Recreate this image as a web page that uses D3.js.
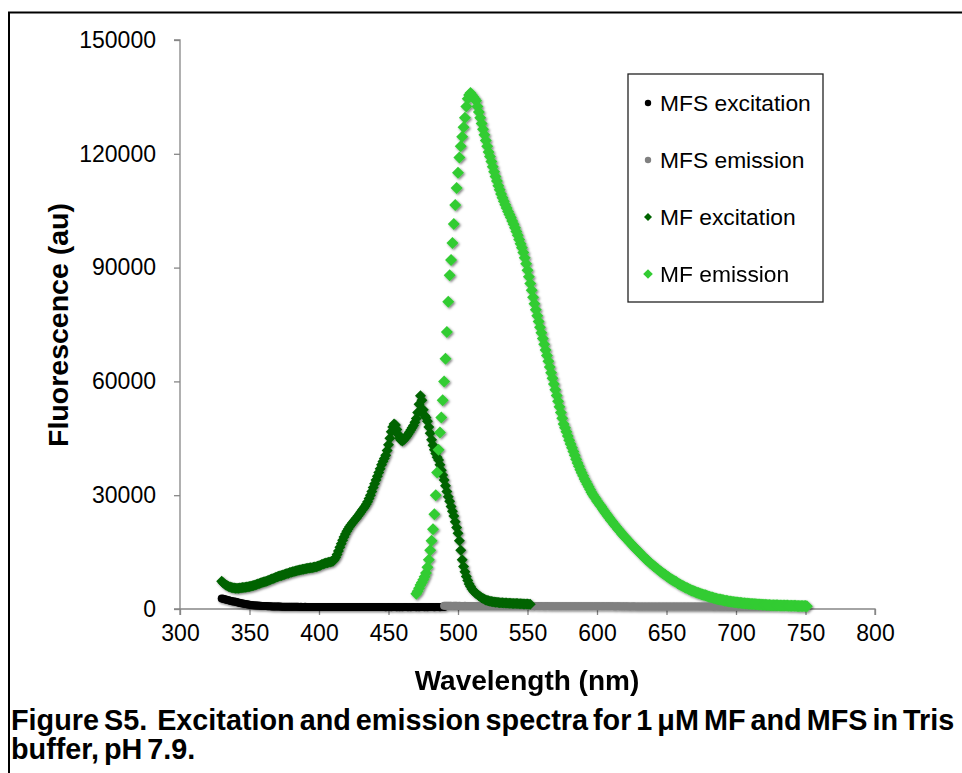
<!DOCTYPE html>
<html><head><meta charset="utf-8">
<script src="https://cdn.jsdelivr.net/npm/d3@7"></script>
<style>
html,body{margin:0;padding:0;background:#fff;}
text{font-family:"Liberation Sans",Arial,sans-serif;}
</style></head>
<body><svg id="c" width="962" height="773"></svg>
<script>
// ---------- data (fluorescence, au; 1 nm steps) ----------
const xTicks = [300,350,400,450,500,550,600,650,700,750,800];
const yTicks = [0,30000,60000,90000,120000,150000];
const seriesNames = ["MFS excitation","MFS emission","MF excitation","MF emission"];

const mfsExcitationStart = 330;
const mfsExcitation = [2800,2700,2600,2500,2400,2300,2200,2100,2000,1950,
 1900,1800,1700,1600,1500,1450,1400,1300,1250,1200,
 1100,1050,1000,980,950,920,900,870,850,820,
 800,780,760,740,720,700,690,680,670,660,
 650,640,630,620,620,610,600,600,590,590,
 580,590,580,570,580,570,560,570,560,560,
 570,560,550,560,550,560,550,540,550,560,
 550,540,550,540,550,540,530,540,550,540,
 530,540,530,540,530,520,530,540,530,520,
 530,520,530,520,530,520,510,520,530,520,
 510,520,510,520,510,520,510,500,510,520,
 510,500,510,500,510,500,510,500,490,500,
 510,500,490,500,510,500,490,500,490,500,
 490,500,510,500,490,500,490,500,510,500,
 490,500,490,500,510,500,490,500,490,500,
 500,510,500,490,500,510,500,490,500,510,500];

const mfsEmissionStart = 490;
const mfsEmission = [850,840,830,840,850,830,820,830,840,830,
 820,830,820,810,820,830,820,810,820,810,
 800,810,820,810,800,810,800,790,800,810,
 800,790,800,790,800,790,780,790,800,790,
 780,790,780,790,780,770,780,790,780,770,
 780,770,780,770,760,770,780,770,760,770,
 760,770,760,750,760,770,760,750,760,750,
 760,750,740,750,760,750,740,750,740,750,
 740,750,740,730,740,750,740,730,740,730,
 740,730,740,730,720,730,740,730,720,730,
 720,730,720,710,720,730,720,710,720,710,
 720,710,720,710,700,710,720,710,700,710,
 700,710,700,690,700,710,700,690,700,690,
 700,690,700,690,680,690,700,690,680,690,
 680,690,680,690,680,670,680,690,680,670,
 680,670,680,670,660,670,680,670,660,670,
 660,670,660,670,660,650,660,670,660,650,
 660,650,660,650,640,650,660,650,640,650,
 640,650,640,650,640,630,640,650,640,630,
 640,630,640,630,620,630,640,630,620,630,
 620,630,620,630,620,610,620,630,620,610,
 620,610,620,610,600,610,620,610,600,610,
 600,610,600,610,600,590,600,610,600,590,
 600,590,600,590,580,590,600,590,580,590,
 580,590,580,590,580,570,580,590,580,570,
 580,570,580,570,560,570,580,570,560,570,560];

const mfExcitationStart = 330;
const mfExcitation = [7300,6900,6600,6300,6100,5900,5800,5700,5600,5550,
 5500,5500,5500,5550,5600,5650,5700,5750,5800,5850,
 5900,6000,6100,6200,6300,6450,6600,6700,6850,7000,
 7100,7200,7300,7450,7600,7750,7900,8050,8200,8350,
 8500,8650,8750,8850,8950,9100,9200,9350,9450,9600,
 9700,9800,9900,10000,10100,10200,10300,10350,10450,10500,
 10600,10700,10750,10800,10850,10900,11000,11050,11150,11250,
 11400,11550,11700,11850,12000,12100,12200,12300,12400,12500,
 12600,13000,13600,14400,15300,16300,17200,18100,19000,19800,
 20500,21100,21700,22200,22700,23100,23600,24000,24500,25000,
 25500,26000,26500,27000,27600,28300,29100,30000,31000,32000,
 33000,34000,35000,36000,37000,38000,38900,39700,40500,41800,
 43300,45000,46700,48000,48800,48500,47300,46000,45000,44500,
 44300,44600,45000,45500,46000,46600,47200,47800,48400,49200,
 50200,51800,54000,56200,55000,52500,51000,50500,49500,48000,
 46300,44600,43200,42000,41000,40000,39300,38000,36600,35300,
 34000,32500,31000,29600,28400,27000,25800,24500,23000,21500,
 20000,18000,15500,13000,11200,9800,8600,7500,6600,5900,
 5300,4800,4400,4100,3800,3500,3200,2950,2750,2550,
 2400,2250,2150,2050,1950,1900,1850,1800,1750,1700,
 1680,1650,1620,1600,1580,1560,1540,1520,1500,1480,
 1460,1450,1440,1420,1400,1380,1360,1350,1340,1320,
 1300,1280,1250];

const mfEmissionStart = 470;
const mfEmission = [4000,4700,5500,6300,7000,7700,8500,9500,11000,13000,
 15500,18000,21000,25000,30000,36000,42000,46500,50500,55000,
 60000,66000,73000,81000,88000,92000,96500,101500,106500,111000,
 115000,119000,122000,124500,127000,129500,132500,134500,135500,136000,
 135500,135000,134500,134000,132500,131000,129500,128000,126500,125000,
 123500,122000,120500,119300,118000,116600,115300,114000,112800,111600,
 110500,109400,108400,107500,106600,105700,104800,104000,103200,102300,
 101400,100500,99500,98500,97400,96300,95200,94000,92600,91000,
 89300,87600,85800,84000,82200,80500,78900,77300,75800,74300,
 72800,71300,69800,68300,66800,65300,63800,62300,60800,59300,
 57800,56300,54800,53300,51800,50300,48800,47800,46700,45600,
 44500,43500,42500,41500,40500,39500,38500,37600,36700,35900,
 35100,34300,33600,32900,32200,31500,30800,30200,29600,29100,
 28500,28000,27500,27000,26400,25900,25400,24900,24400,23900,
 23400,23000,22500,22000,21600,21100,20700,20300,19800,19400,
 19000,18600,18200,17800,17400,17000,16600,16200,15800,15500,
 15100,14700,14300,14000,13600,13200,12900,12600,12200,11900,
 11600,11300,11000,10700,10400,10100,9800,9500,9300,9000,
 8700,8500,8200,8000,7700,7500,7300,7100,6800,6600,
 6400,6200,6000,5800,5600,5500,5300,5100,4900,4800,
 4600,4500,4300,4200,4100,3900,3800,3700,3600,3500,
 3300,3200,3100,3000,2900,2800,2700,2600,2500,2500,
 2400,2300,2200,2200,2100,2000,1950,1900,1850,1800,
 1750,1700,1660,1620,1580,1540,1500,1470,1440,1410,
 1380,1350,1320,1290,1260,1230,1200,1180,1160,1140,
 1120,1100,1080,1060,1040,1020,1000,990,980,970,
 960,950,940,930,920,910,900,890,880,870,
 860,850,840,830,820,810,800,790,780,770,760,750];

// ---------- drawing ----------
const svg = d3.select("#c");
const x = d3.scaleLinear().domain([300,800]).range([180,875]);
const y = d3.scaleLinear().domain([0,150000]).range([609,40]);
const axisCol = "#868686";

const defs = svg.append("defs");
const f = defs.append("filter").attr("id","sh").attr("x","-50%").attr("y","-50%").attr("width","200%").attr("height","200%");
f.append("feDropShadow").attr("dx",1.3).attr("dy",1.3).attr("stdDeviation",1).attr("flood-color","#000").attr("flood-opacity",0.5);

// outer frame
svg.append("path").attr("d","M9,773 V12.5 H962").attr("fill","none").attr("stroke","#000").attr("stroke-width",2);

// axes
const yAxis = svg.append("g").attr("transform","translate(180,0)")
  .call(d3.axisLeft(y).tickValues(yTicks).tickSize(6).tickPadding(18).tickFormat(d3.format("d")));
const xAxis = svg.append("g").attr("transform","translate(0,609)")
  .call(d3.axisBottom(x).tickValues(xTicks).tickSize(6).tickPadding(10).tickFormat(d3.format("d")));
[yAxis,xAxis].forEach(g=>{
  g.select(".domain").attr("stroke",axisCol).attr("stroke-width",1.3);
  g.selectAll(".tick line").attr("stroke",axisCol).attr("stroke-width",1.3);
  g.selectAll(".tick text").attr("fill","#000").style("font-size","23px").style("font-family","'Liberation Sans',Arial,sans-serif");
});
xAxis.select(".domain").attr("d","M180,6V0H875V6");
yAxis.select(".domain").attr("d","M-6,40H0V609H-6");

const diamond = r => `M0,${-r}L${r},0L0,${r}L${-r},0Z`;
function toPts(start, vals){ return vals.map((v,i)=>({w:start+i, v})); }

const plot = svg.append("g").attr("filter","url(#sh)");
// MFS excitation
plot.append("g").selectAll("circle").data(toPts(mfsExcitationStart,mfsExcitation)).join("circle")
  .attr("cx",d=>x(d.w)).attr("cy",d=>y(d.v)).attr("r",4).attr("fill","#000");
// MFS emission
plot.append("g").selectAll("circle").data(toPts(mfsEmissionStart,mfsEmission)).join("circle")
  .attr("cx",d=>x(d.w)).attr("cy",d=>y(d.v)).attr("r",4).attr("fill","#808080");
// MF excitation
plot.append("g").selectAll("path").data(toPts(mfExcitationStart,mfExcitation)).join("path")
  .attr("d",diamond(5.5)).attr("transform",d=>`translate(${x(d.w)},${y(d.v)})`).attr("fill","#006400");
// MF emission
plot.append("g").selectAll("path").data(toPts(mfEmissionStart,mfEmission)).join("path")
  .attr("d",diamond(6)).attr("transform",d=>`translate(${x(d.w)},${y(d.v)})`).attr("fill","#33CC33");

// legend
const lg = svg.append("g");
lg.append("rect").attr("x",628).attr("y",74).attr("width",195).attr("height",228)
  .attr("fill","#fff").attr("stroke","#222").attr("stroke-width",1.3);
const rowsY = [103,160,217,274];
const legCols = ["#000","#808080","#006400","#33CC33"];
seriesNames.forEach((n,i)=>{
  const gy = rowsY[i];
  if(i<2) lg.append("circle").attr("cx",648).attr("cy",gy).attr("r",3.2).attr("fill",legCols[i]);
  else lg.append("path").attr("d",diamond(i==2?4:4.8)).attr("transform",`translate(648,${gy})`).attr("fill",legCols[i]);
  lg.append("text").attr("x",660).attr("y",gy+8).style("font-size","22.8px").text(n);
});

// axis titles
svg.append("text").attr("x",527).attr("y",690).attr("text-anchor","middle")
  .style("font-size","28px").style("font-weight","bold").text("Wavelength (nm)");
svg.append("text").attr("transform","translate(68,325) rotate(-90)").attr("text-anchor","middle")
  .style("font-size","28.5px").style("font-weight","bold").text("Fluorescence (au)");

// caption
const cap = svg.append("g");
const capStyle = t => t.style("font-size","29px").style("font-weight","bold")
  .style("font-family","'Liberation Sans Narrow','Arial Narrow','Liberation Sans',Arial,sans-serif")
  .style("white-space","pre").style("word-spacing","-3px");
const l1 = cap.append("text").attr("x",0).attr("y",730).call(capStyle)
  .text("Figure S5.  Excitation and emission spectra for 1 \u03BCM MF and MFS in Tris");
const l2 = cap.append("text").attr("x",0).attr("y",759).call(capStyle)
  .text("buffer, pH 7.9.");
const w = l1.node().getComputedTextLength();
const s = 944 / w;
cap.attr("transform",`translate(11,0) scale(${s},1)`);
</script></body></html>
